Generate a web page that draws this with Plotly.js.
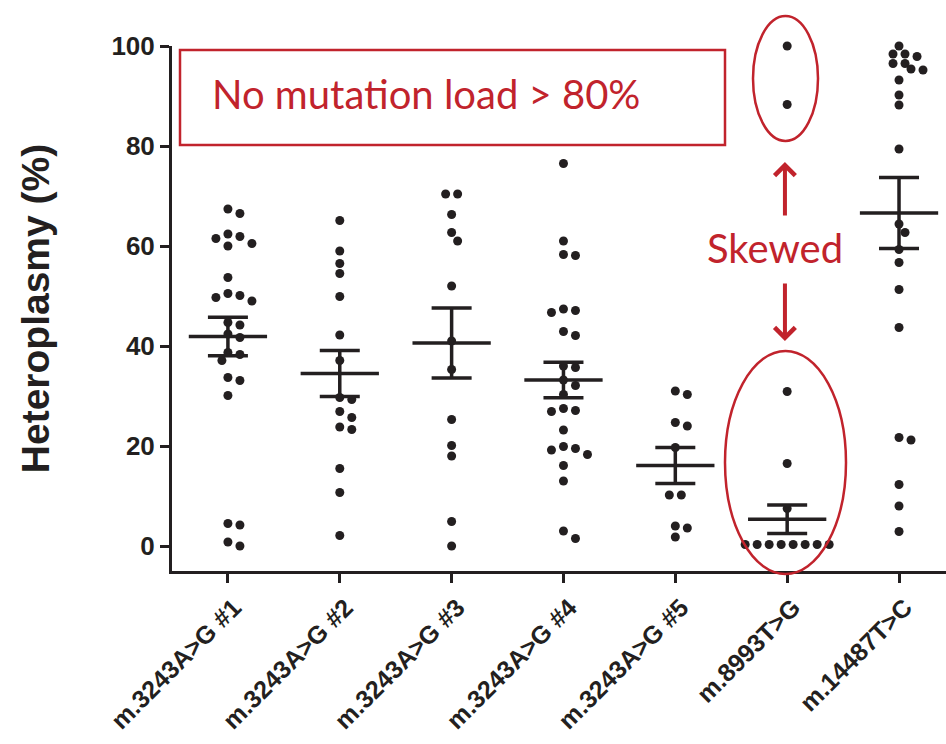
<!DOCTYPE html>
<html>
<head>
<meta charset="utf-8">
<script src="https://cdn.plot.ly/plotly-3.0.1.min.js"></script>
<style>html,body{margin:0;padding:0;background:#fff;}#chart{width:946px;height:744px;}</style>
</head>
<body>
<div id="chart"></div>
<script>
// ---- data ----
var categories = ['m.3243A>G #1', 'm.3243A>G #2', 'm.3243A>G #3', 'm.3243A>G #4', 'm.3243A>G #5', 'm.8993T>G', 'm.14487T>C'];
var g1 = [67.4, 66.5, 62.4, 61.9, 61.5, 60.5, 60, 53.7, 50.5, 50.1, 49.7, 49, 44.7, 44.2, 42.4, 41.7, 38.7, 38.3, 37.1, 33.7, 33.1, 30.1, 4.5, 4.2, 0.8, 0];
var g2 = [65.1, 59, 56.5, 54.5, 49.9, 42.2, 37.1, 29.7, 29.3, 26.9, 25.7, 23.8, 23.3, 15.5, 10.7, 2.1];
var g3 = [70.4, 70.4, 66.3, 62.7, 61, 52, 41, 35.3, 25.3, 20.1, 18, 4.9, 0];
var g4 = [76.5, 61, 58.3, 58.1, 47.4, 47.1, 46.7, 42.9, 42.1, 36, 35.7, 33.2, 32.1, 30.3, 27.5, 27.1, 26.9, 23.2, 19.9, 19.5, 19.2, 18.3, 16.1, 13, 3, 1.5];
var g5 = [31, 30.3, 24.7, 24, 19.7, 10.2, 10.2, 4, 3.6, 1.8];
var g6 = [100, 88.3, 30.9, 16.5, 7.5, 0.3, 0.3, 0.3, 0.3, 0.3, 0.3, 0.3, 0.3];
var g7 = [100, 98.4, 98.4, 97.9, 96.5, 96.5, 95.4, 95.2, 93.2, 90.2, 88.2, 79.4, 64.4, 62.7, 59.3, 56.7, 51.3, 43.7, 21.7, 21.2, 12.3, 8, 2.9];
var groupValues = [g1, g2, g3, g4, g5, g6, g7];
var means = [41.9, 34.5, 40.6, 33.2, 16.1, 5.35, 66.6];
var sems = [3.85, 4.6, 7.0, 3.55, 3.6, 2.85, 7.1];
var yTicks = [0, 20, 40, 60, 80, 100];

// ---- styling / geometry ----
var INK = '#231f20';
var RED = '#c1232c';
var W = 946, H = 744;
var M = {l: 172, r: 0, t: 46, b: 173};
var xRange = [-0.5, 6.42];
var yRange = [-5, 100];
var pxPerX = (W - M.l - M.r) / (xRange[1] - xRange[0]);
var pxPerY = (H - M.t - M.b) / (yRange[1] - yRange[0]);

// simple beeswarm: spread overlapping dots sideways, rows of equal values centred
function swarm(vals, center) {
  var placed = [];
  var D = 10, step = 6;
  var cands = [0];
  for (var k = 1; k <= 12; k++) { cands.push(k * step); cands.push(-k * step); }
  vals.forEach(function (v) {
    var yp = v * pxPerY;
    var chosen = 0;
    for (var c = 0; c < cands.length; c++) {
      var ok = true;
      for (var p = 0; p < placed.length; p++) {
        var dx = cands[c] - placed[p][0], dy = yp - placed[p][1];
        if (dx * dx + dy * dy < D * D) { ok = false; break; }
      }
      if (ok) { chosen = cands[c]; break; }
    }
    placed.push([chosen, yp]);
  });
  var byVal = {};
  placed.forEach(function (p, i) { var key = vals[i].toFixed(2); (byVal[key] = byVal[key] || []).push(i); });
  Object.keys(byVal).forEach(function (key) {
    var idx = byVal[key];
    if (idx.length > 1) {
      var s = 0; idx.forEach(function (i) { s += placed[i][0]; });
      var shift = s / idx.length;
      idx.forEach(function (i) { placed[i][0] -= shift; });
    }
  });
  return placed.map(function (p) { return center + p[0] / pxPerX; });
}

var traces = [];
var allX = [], allY = [];
groupValues.forEach(function (vals, i) {
  allX = allX.concat(swarm(vals, i));
  allY = allY.concat(vals);
});
traces.push({
  type: 'scatter', mode: 'markers', x: allX, y: allY, cliponaxis: false,
  marker: {size: 9, color: INK}, hoverinfo: 'y', showlegend: false
});

// mean lines
var mx = [], my = [];
means.forEach(function (m, i) { mx.push(i - 0.35, i + 0.35, null); my.push(m, m, null); });
traces.push({
  type: 'scatter', mode: 'lines', x: mx, y: my, cliponaxis: false,
  line: {color: INK, width: 3.5}, hoverinfo: 'skip', showlegend: false
});
// SEM error bars
traces.push({
  type: 'scatter', mode: 'markers', x: categories.map(function (c, i) { return i; }), y: means,
  marker: {size: 1, color: 'rgba(0,0,0,0)'}, cliponaxis: false,
  error_y: {type: 'data', array: sems, visible: true, color: INK, thickness: 3.5, width: 20},
  hoverinfo: 'skip', showlegend: false
});

function px2paperX(px) { return (px - M.l) / (W - M.l - M.r); }
function px2paperY(py) { return (H - M.b - py) / (H - M.t - M.b); }

var layout = {
  width: W, height: H,
  margin: M,
  paper_bgcolor: '#fff', plot_bgcolor: '#fff',
  showlegend: false,
  font: {family: 'Liberation Sans, Arial, sans-serif', color: INK},
  xaxis: {
    range: xRange, tickmode: 'array', tickvals: categories.map(function (c, i) { return i; }), ticktext: categories,
    tickangle: -45, ticks: 'outside', ticklen: 9, tickwidth: 3, tickcolor: INK,
    showline: true, linewidth: 3, linecolor: INK, showgrid: false, zeroline: false,
    ticklabelshift: 6,
    tickfont: {family: 'Liberation Sans, Arial, sans-serif', size: 25, weight: 'bold', color: INK}
  },
  yaxis: {
    range: yRange, tickmode: 'array', tickvals: yTicks, ticktext: yTicks.map(String),
    ticks: 'outside', ticklen: 9, tickwidth: 3, tickcolor: INK,
    showline: true, linewidth: 3, linecolor: INK, showgrid: false, zeroline: false,
    tickfont: {family: 'Liberation Sans, Arial, sans-serif', size: 26, weight: 'bold', color: INK},
    title: {text: 'Heteroplasmy (%)', standoff: 50, font: {family: 'Liberation Sans, Arial, sans-serif', size: 39, weight: 'bold', color: INK}}
  },
  shapes: [
    {type: 'rect', xref: 'paper', yref: 'paper', x0: px2paperX(180), x1: px2paperX(725), y0: px2paperY(145), y1: px2paperY(50),
     line: {color: RED, width: 2.5}},
    {type: 'circle', xref: 'paper', yref: 'paper', x0: px2paperX(753), x1: px2paperX(818), y0: px2paperY(141), y1: px2paperY(16),
     line: {color: RED, width: 2.5}},
    {type: 'circle', xref: 'paper', yref: 'paper', x0: px2paperX(725), x1: px2paperX(846), y0: px2paperY(574), y1: px2paperY(351),
     line: {color: RED, width: 2.5}}
  ],
  annotations: [
    {xref: 'paper', yref: 'paper', x: px2paperX(426), y: px2paperY(94), text: 'No mutation load > 80%', showarrow: false,
     xanchor: 'center', yanchor: 'middle', font: {family: 'Lato, sans-serif', size: 40, color: RED}},
    {xref: 'paper', yref: 'paper', x: px2paperX(775), y: px2paperY(248), text: 'Skewed', showarrow: false,
     xanchor: 'center', yanchor: 'middle', font: {family: 'Lato, sans-serif', size: 40, color: RED}},
    {xref: 'x', yref: 'y', axref: 'x', ayref: 'y', x: 4.98, y: 76.8, ax: 4.98, ay: 65.8, text: '', showarrow: true,
     arrowhead: 4, arrowsize: 1, arrowwidth: 4, arrowcolor: RED, standoff: 0, startstandoff: 0},
    {xref: 'x', yref: 'y', axref: 'x', ayref: 'y', x: 4.98, y: 41, ax: 4.98, ay: 52.8, text: '', showarrow: true,
     arrowhead: 4, arrowsize: 1, arrowwidth: 4, arrowcolor: RED, standoff: 0, startstandoff: 0}
  ]
};

Plotly.newPlot('chart', traces, layout, {staticPlot: true, displayModeBar: false});
</script>
</body>
</html>
